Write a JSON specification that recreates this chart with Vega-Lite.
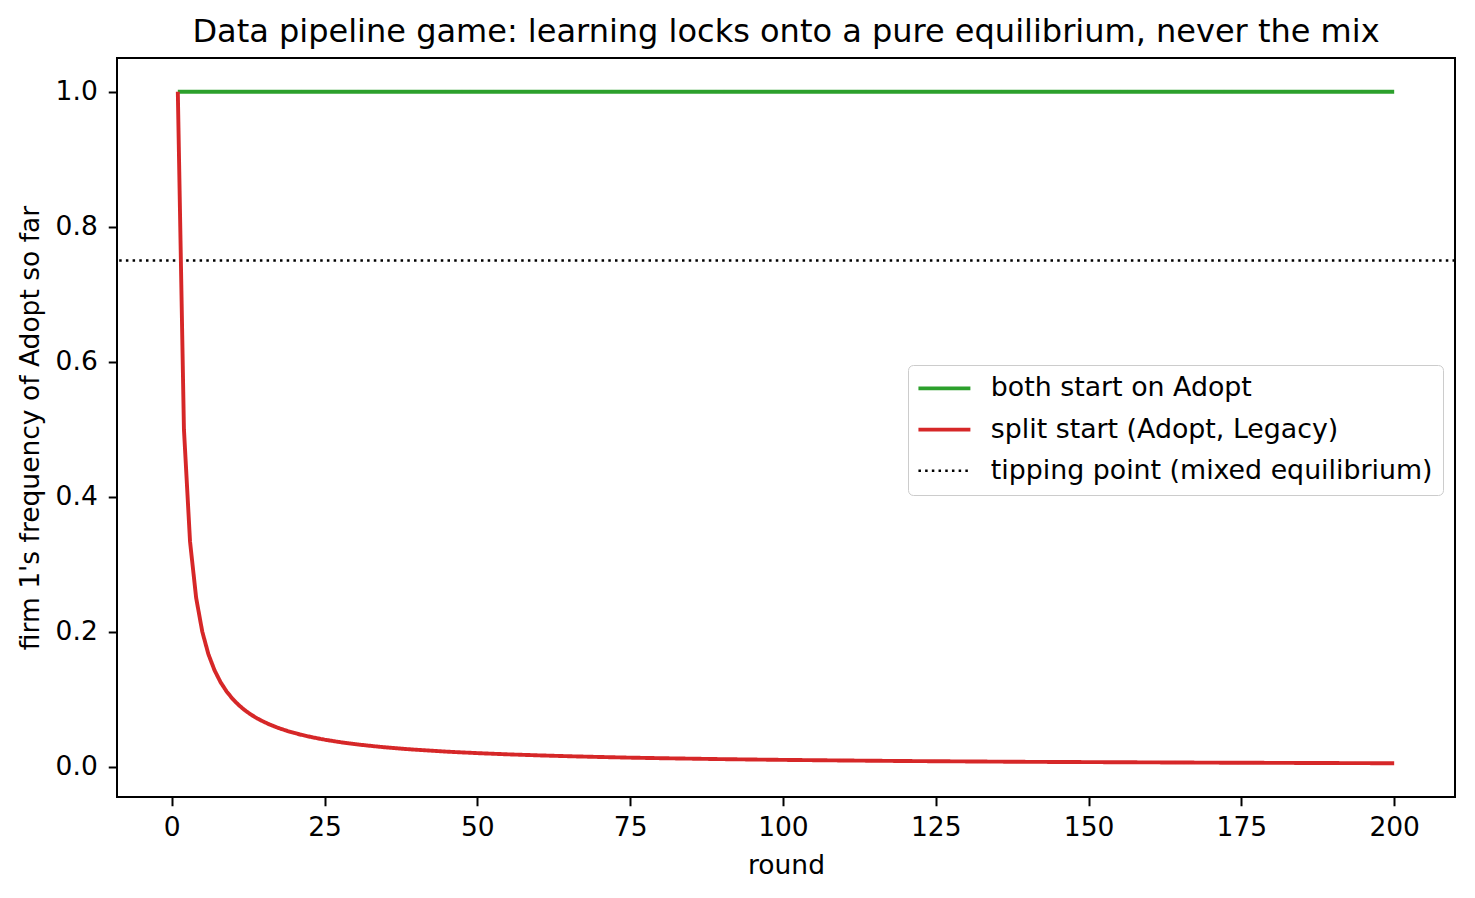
{
  "$schema": "https://vega.github.io/schema/vega-lite/v6.json",
  "autosize": "none",
  "padding": {"left": 117, "top": 58, "right": 20, "bottom": 101},
  "width": 1338,
  "height": 739,
  "background": "white",
  "title": {
    "text": "Data pipeline game: learning locks onto a pure equilibrium, never the mix",
    "fontSize": 32,
    "fontWeight": "normal",
    "font": "DejaVu Sans",
    "color": "black",
    "anchor": "middle",
    "offset": 9
  },
  "data": {
    "values": [
      {"series": "tipping point (mixed equilibrium)", "round": null, "value": 0.75},
      {"series": "both start on Adopt", "round": 1, "value": 1.0},
      {"series": "both start on Adopt", "round": 200, "value": 1.0},
      {"series": "split start (Adopt, Legacy)", "round": 1, "value": 1.0},
      {"series": "split start (Adopt, Legacy)", "round": 2, "value": 0.5},
      {"series": "split start (Adopt, Legacy)", "round": 3, "value": 0.3333},
      {"series": "split start (Adopt, Legacy)", "round": 4, "value": 0.25},
      {"series": "split start (Adopt, Legacy)", "round": 5, "value": 0.2},
      {"series": "split start (Adopt, Legacy)", "round": 6, "value": 0.1667},
      {"series": "split start (Adopt, Legacy)", "round": 7, "value": 0.1429},
      {"series": "split start (Adopt, Legacy)", "round": 8, "value": 0.125},
      {"series": "split start (Adopt, Legacy)", "round": 9, "value": 0.1111},
      {"series": "split start (Adopt, Legacy)", "round": 10, "value": 0.1},
      {"series": "split start (Adopt, Legacy)", "round": 11, "value": 0.0909},
      {"series": "split start (Adopt, Legacy)", "round": 12, "value": 0.0833},
      {"series": "split start (Adopt, Legacy)", "round": 13, "value": 0.0769},
      {"series": "split start (Adopt, Legacy)", "round": 14, "value": 0.0714},
      {"series": "split start (Adopt, Legacy)", "round": 15, "value": 0.0667},
      {"series": "split start (Adopt, Legacy)", "round": 16, "value": 0.0625},
      {"series": "split start (Adopt, Legacy)", "round": 17, "value": 0.0588},
      {"series": "split start (Adopt, Legacy)", "round": 18, "value": 0.0556},
      {"series": "split start (Adopt, Legacy)", "round": 19, "value": 0.0526},
      {"series": "split start (Adopt, Legacy)", "round": 20, "value": 0.05},
      {"series": "split start (Adopt, Legacy)", "round": 21, "value": 0.0476},
      {"series": "split start (Adopt, Legacy)", "round": 22, "value": 0.0455},
      {"series": "split start (Adopt, Legacy)", "round": 23, "value": 0.0435},
      {"series": "split start (Adopt, Legacy)", "round": 24, "value": 0.0417},
      {"series": "split start (Adopt, Legacy)", "round": 25, "value": 0.04},
      {"series": "split start (Adopt, Legacy)", "round": 26, "value": 0.0385},
      {"series": "split start (Adopt, Legacy)", "round": 27, "value": 0.037},
      {"series": "split start (Adopt, Legacy)", "round": 28, "value": 0.0357},
      {"series": "split start (Adopt, Legacy)", "round": 29, "value": 0.0345},
      {"series": "split start (Adopt, Legacy)", "round": 30, "value": 0.0333},
      {"series": "split start (Adopt, Legacy)", "round": 32, "value": 0.0313},
      {"series": "split start (Adopt, Legacy)", "round": 34, "value": 0.0294},
      {"series": "split start (Adopt, Legacy)", "round": 36, "value": 0.0278},
      {"series": "split start (Adopt, Legacy)", "round": 38, "value": 0.0263},
      {"series": "split start (Adopt, Legacy)", "round": 40, "value": 0.025},
      {"series": "split start (Adopt, Legacy)", "round": 45, "value": 0.0222},
      {"series": "split start (Adopt, Legacy)", "round": 50, "value": 0.02},
      {"series": "split start (Adopt, Legacy)", "round": 55, "value": 0.0182},
      {"series": "split start (Adopt, Legacy)", "round": 60, "value": 0.0167},
      {"series": "split start (Adopt, Legacy)", "round": 65, "value": 0.0154},
      {"series": "split start (Adopt, Legacy)", "round": 70, "value": 0.0143},
      {"series": "split start (Adopt, Legacy)", "round": 75, "value": 0.0133},
      {"series": "split start (Adopt, Legacy)", "round": 80, "value": 0.0125},
      {"series": "split start (Adopt, Legacy)", "round": 90, "value": 0.0111},
      {"series": "split start (Adopt, Legacy)", "round": 100, "value": 0.01},
      {"series": "split start (Adopt, Legacy)", "round": 110, "value": 0.0091},
      {"series": "split start (Adopt, Legacy)", "round": 120, "value": 0.0083},
      {"series": "split start (Adopt, Legacy)", "round": 130, "value": 0.0077},
      {"series": "split start (Adopt, Legacy)", "round": 140, "value": 0.0071},
      {"series": "split start (Adopt, Legacy)", "round": 150, "value": 0.0067},
      {"series": "split start (Adopt, Legacy)", "round": 160, "value": 0.0063},
      {"series": "split start (Adopt, Legacy)", "round": 170, "value": 0.0059},
      {"series": "split start (Adopt, Legacy)", "round": 180, "value": 0.0056},
      {"series": "split start (Adopt, Legacy)", "round": 190, "value": 0.0053},
      {"series": "split start (Adopt, Legacy)", "round": 200, "value": 0.005}
    ]
  },
  "encoding": {
    "y": {
      "field": "value",
      "type": "quantitative",
      "title": "firm 1's frequency of Adopt so far",
      "scale": {"domain": [-0.045, 1.05], "nice": false, "zero": false},
      "axis": {"values": [0, 0.2, 0.4, 0.6, 0.8, 1.0], "format": ".1f", "titlePadding": 11, "labelPadding": 11}
    },
    "color": {
      "field": "series",
      "type": "nominal",
      "title": null,
      "scale": {
        "domain": ["both start on Adopt", "split start (Adopt, Legacy)", "tipping point (mixed equilibrium)"],
        "range": ["#2ca02c", "#d62728", "black"]
      },
      "legend": {
        "orient": "none",
        "legendX": 791,
        "legendY": 307,
        "symbolType": "M-1.08,0H3.25",
        "symbolSize": 576,
        "symbolStrokeWidth": 3.75,
        "labelOffset": 46,
        "labelFontSize": 26.8,
        "labelFont": "DejaVu Sans",
        "labelColor": "black",
        "labelLimit": 600,
        "rowPadding": 13.2,
        "padding": 10,
        "fillColor": "white",
        "strokeColor": "#cccccc",
        "cornerRadius": 5,
        "encode": {
          "symbols": {
            "update": {
              "strokeWidth": {"signal": "datum.value == 'tipping point (mixed equilibrium)' ? 2.5 : 3.75"}
            }
          }
        }
      }
    },
    "strokeDash": {
      "field": "series",
      "type": "nominal",
      "title": null,
      "scale": {
        "domain": ["both start on Adopt", "split start (Adopt, Legacy)", "tipping point (mixed equilibrium)"],
        "range": [[1, 0], [1, 0], [2.5, 4.2]]
      }
    }
  },
  "layer": [
    {
      "transform": [{"filter": "datum.series == 'tipping point (mixed equilibrium)'"}],
      "mark": {"type": "rule", "strokeWidth": 2.5}
    },
    {
      "transform": [{"filter": "datum.series != 'tipping point (mixed equilibrium)'"}],
      "mark": {"type": "line", "strokeWidth": 3.9},
      "encoding": {
        "x": {
          "field": "round",
          "type": "quantitative",
          "title": "round",
          "scale": {"domain": [-8.95, 209.95], "nice": false, "zero": false},
          "axis": {"values": [0, 25, 50, 75, 100, 125, 150, 175, 200], "titlePadding": 11}
        },
        "order": {"field": "round"}
      }
    }
  ],
  "config": {
    "view": {"stroke": "black", "strokeWidth": 2},
    "font": "DejaVu Sans",
    "axis": {
      "grid": false,
      "domain": false,
      "tickColor": "black",
      "tickWidth": 2,
      "tickSize": 8.75,
      "labelPadding": 9,
      "labelFontSize": 26.5,
      "labelFont": "DejaVu Sans",
      "labelColor": "black",
      "titleFontSize": 26.5,
      "titleFont": "DejaVu Sans",
      "titleFontWeight": "normal",
      "titleColor": "black"
    }
  }
}
